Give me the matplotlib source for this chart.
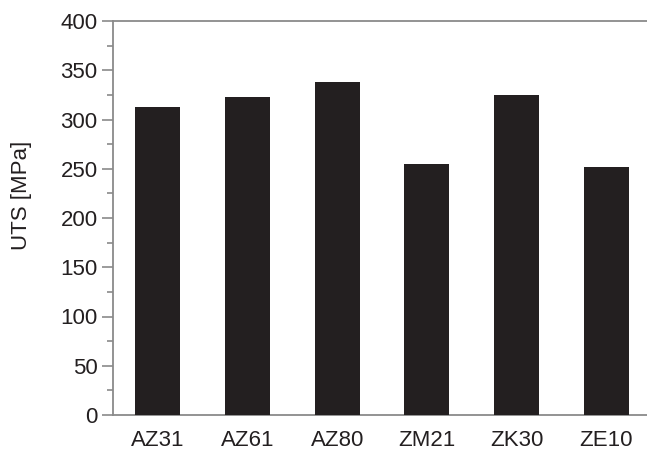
import matplotlib
matplotlib.use("Agg")
import matplotlib.pyplot as plt
from matplotlib.ticker import MultipleLocator

alloys = ["AZ31", "AZ61", "AZ80", "ZM21", "ZK30", "ZE10"]
uts = [313, 323, 338, 255, 325, 252]

plt.rcParams['font.family'] = ['Liberation Sans', 'DejaVu Sans']

fig = plt.figure(figsize=(6.47, 4.51), dpi=100)
ax = fig.add_axes([113/647, 1-415/451, 538/647, (415-21)/451])
x = list(range(len(alloys)))
ax.bar(x, uts, width=0.5, color="#231f20", zorder=3)
ax.set_xlim(-0.5, 5.5)
ax.set_ylim(0, 400)
ax.set_xticks(x)
ax.set_xticklabels(alloys)
ax.yaxis.set_major_locator(MultipleLocator(50))
ax.yaxis.set_minor_locator(MultipleLocator(25))
ax.set_ylabel("UTS [MPa]", fontsize=16, color="#231f20")
ax.yaxis.set_label_coords(-0.150, 0.558)
for s in ["left", "top", "bottom"]:
    ax.spines[s].set_color("#8a8a8a")
    ax.spines[s].set_linewidth(1.3)
ax.spines["right"].set_visible(False)
ax.tick_params(axis="y", which="major", length=8, width=1.2, color="#8a8a8a",
               labelsize=16, labelcolor="#231f20", pad=3)
ax.tick_params(axis="y", which="minor", length=4, width=1.2, color="#8a8a8a")
ax.tick_params(axis="x", which="major", length=0, labelsize=16,
               labelcolor="#231f20", pad=11)
fig.savefig("out.png", dpi=100)
